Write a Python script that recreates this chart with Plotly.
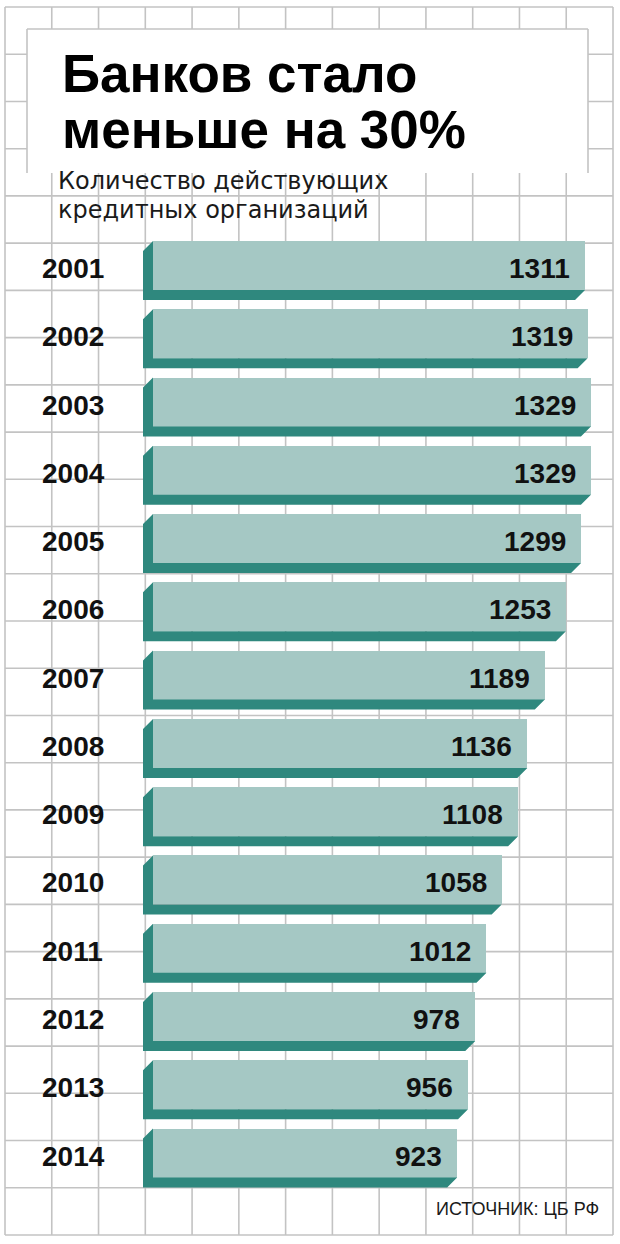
import plotly.graph_objects as go

# ---- data ----
years = ["2001", "2002", "2003", "2004", "2005", "2006", "2007",
         "2008", "2009", "2010", "2011", "2012", "2013", "2014"]
banks = [1311, 1319, 1329, 1329, 1299, 1253, 1189,
         1136, 1108, 1058, 1012, 978, 956, 923]
title_lines = ["Банков стало", "меньше на 30%"]
subtitle_lines = ["Количество действующих", "кредитных организаций"]
source_text = "ИСТОЧНИК: ЦБ РФ"

# ---- style ----
W, H = 620, 1244
LIGHT = "#a5c8c4"
DARK = "#2f887e"
GRID = "#c3c3c3"
BOLD = "Liberation Sans, Arial, sans-serif"

# axis geometry (pixel mapping)
px_per_unit = 432 / 1311.0
x0_px = 153.0
xmin = -x0_px / px_per_unit
xmax = xmin + W / px_per_unit
pitch = 68.27
first_center = 265.5
ytop = -first_center / pitch
ybot = ytop + H / pitch
bar_w = 49 / pitch
dx = 10 / px_per_unit
dy = 10 / pitch

idx = list(range(len(years)))

fig = go.Figure()

# depth faces of the 3D bars
for i, v in zip(idx, banks):
    y0 = i - bar_w / 2
    y1 = i + bar_w / 2
    xs = [-dx, 0, 0, v, v - dx, -dx, -dx]
    ys = [y0 + dy, y0, y1, y1, y1 + dy, y1 + dy, y0 + dy]
    fig.add_trace(go.Scatter(x=xs, y=ys, mode="lines", fill="toself",
                             fillcolor=DARK, line=dict(width=0, color=DARK),
                             hoverinfo="skip", showlegend=False))

# front faces
fig.add_trace(go.Bar(x=banks, y=idx, orientation="h", width=bar_w,
                     marker=dict(color=LIGHT, line=dict(width=0)),
                     hoverinfo="skip", showlegend=False))

annotations = []
for i, (yr, v) in enumerate(zip(years, banks)):
    annotations.append(dict(x=40 / W, xref="paper", y=i, yref="y", text=yr,
                            xanchor="left", yanchor="middle", yshift=-3,
                            showarrow=False,
                            font=dict(family=BOLD, size=28, color="#111111", weight="bold")))
    annotations.append(dict(x=v, xref="x", y=i, yref="y", text=str(v),
                            xanchor="right", yanchor="middle", xshift=-13, yshift=-3,
                            showarrow=False,
                            font=dict(family=BOLD, size=28, color="#111111", weight="bold")))

# title
for text, cy in zip(title_lines, [74, 130]):
    annotations.append(dict(x=60 / W, xref="paper", y=1 - cy / H, yref="paper", text=text,
                            xanchor="left", yanchor="middle", showarrow=False,
                            font=dict(family=BOLD, size=53, color="#000000", weight="bold")))
# subtitle
for text, cy in zip(subtitle_lines, [181, 210]):
    annotations.append(dict(x=56 / W, xref="paper", y=1 - cy / H, yref="paper", text=text,
                            xanchor="left", yanchor="middle", showarrow=False,
                            font=dict(family="DejaVu Sans, sans-serif", size=24, color="#1a1a1a")))
# source
annotations.append(dict(x=601 / W, xref="paper", y=1 - 1209 / H, yref="paper", text=source_text,
                        xanchor="right", yanchor="middle", showarrow=False,
                        font=dict(family="Liberation Sans, Arial, sans-serif", size=18, color="#1a1a1a")))

# background grid (decoration)
shapes = []
gx0, gx1, gy0, gy1 = 5, 613, 7, 1235
ncol, nrow = 13, 26
for k in range(ncol + 1):
    x = gx0 + k * (gx1 - gx0) / ncol
    shapes.append(dict(type="line", xref="paper", yref="paper", layer="below",
                       x0=x / W, x1=x / W, y0=1 - gy0 / H, y1=1 - gy1 / H,
                       line=dict(color=GRID, width=1.6)))
for k in range(nrow + 1):
    y = gy0 + k * (gy1 - gy0) / nrow
    shapes.append(dict(type="line", xref="paper", yref="paper", layer="below",
                       x0=gx0 / W, x1=gx1 / W, y0=1 - y / H, y1=1 - y / H,
                       line=dict(color=GRID, width=1.6)))
# title box
shapes.append(dict(type="rect", xref="paper", yref="paper", layer="below",
                   x0=27 / W, x1=588 / W, y0=1 - 29 / H, y1=1 - 173 / H,
                   fillcolor="white", line=dict(width=0)))
for (xa, ya, xb, yb) in [(27, 173, 27, 29), (27, 29, 588, 29), (588, 29, 588, 173)]:
    shapes.append(dict(type="line", xref="paper", yref="paper", layer="below",
                       x0=xa / W, x1=xb / W, y0=1 - ya / H, y1=1 - yb / H,
                       line=dict(color=GRID, width=1.6)))

fig.update_layout(
    width=W, height=H,
    margin=dict(l=0, r=0, t=0, b=0),
    paper_bgcolor="white", plot_bgcolor="rgba(0,0,0,0)",
    xaxis=dict(range=[xmin, xmax], visible=False, fixedrange=True),
    yaxis=dict(range=[ybot, ytop], visible=False, fixedrange=True),
    showlegend=False, bargap=0,
    annotations=annotations, shapes=shapes,
)

fig.write_html("out.html",
               config=dict(displayModeBar=False, staticPlot=True),
               post_script="document.body.style.margin='0px';document.body.style.overflow='hidden';")
